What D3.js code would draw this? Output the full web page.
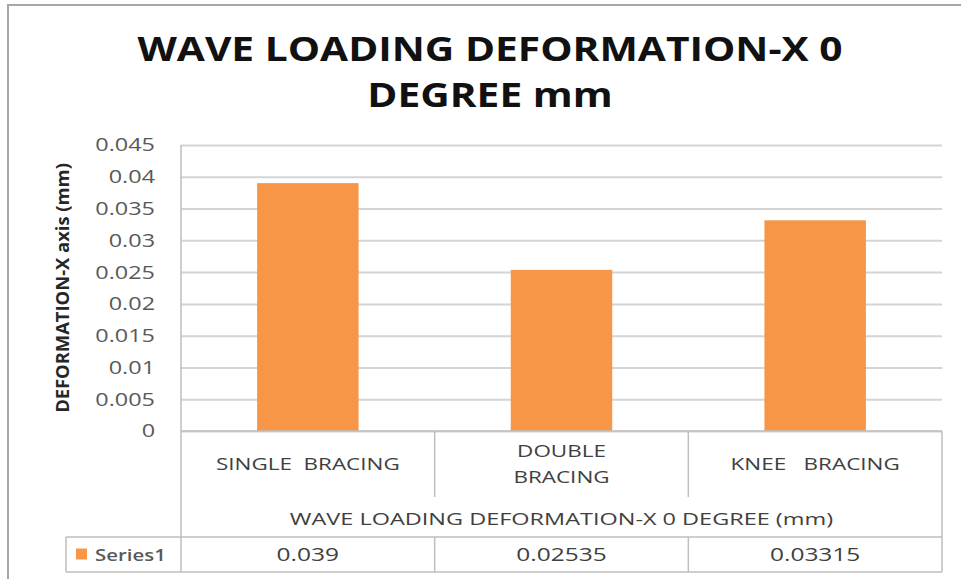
<!DOCTYPE html>
<html>
<head>
<meta charset="utf-8">
<script src="https://cdn.jsdelivr.net/npm/d3@7"></script>
<style>
	body { margin: 0; background: #fff; }
	svg { display: block; font-family: "Open Sans", sans-serif; }
	.grid line { stroke: #d4d4d4; stroke-width: 2; }
	.grid path { display: none; }
	.tbl { stroke: #bfbfbf; stroke-width: 1.5; fill: none; }
</style>
</head>
<body>
<svg id="chart" width="961" height="579"></svg>
<script>
// chart data
var categories = ["SINGLE  BRACING", "DOUBLE\nBRACING", "KNEE   BRACING"];
var values = [0.039, 0.02535, 0.03315];
var valueLabels = ["0.039", "0.02535", "0.03315"];
var yTicks = [0, 0.005, 0.01, 0.015, 0.02, 0.025, 0.03, 0.035, 0.04, 0.045];
var seriesName = "Series1";
var titleLines = ["WAVE LOADING DEFORMATION-X 0", "DEGREE mm"];
var xTitle = "WAVE LOADING DEFORMATION-X 0 DEGREE (mm)";
var yTitle = "DEFORMATION-X axis (mm)";

var orange = "#f79646";

var svg = d3.select("#chart");
var margin = { top: 145, right: 19, bottom: 148, left: 181 },
	width = +svg.attr("width") - margin.left - margin.right,
	height = +svg.attr("height") - margin.top - margin.bottom;

// stretch text horizontally (source picture is widened)
function stretch(sel, k) {
	sel.each(function () {
		var n = this.getComputedTextLength();
		d3.select(this).attr("textLength", n * k).attr("lengthAdjust", "spacingAndGlyphs");
	});
}

// outer chart frame
svg.append("path")
	.attr("d", "M8,579V5H961")
	.attr("fill", "none")
	.attr("stroke", "#a6a6a6")
	.attr("stroke-width", 2);

// title
svg.append("g").selectAll("text")
	.data(titleLines)
	.enter().append("text")
	.attr("x", 490)
	.attr("y", function (d, i) { return 61 + i * 46; })
	.attr("text-anchor", "middle")
	.attr("font-size", 33.5)
	.attr("font-weight", "bold")
	.attr("fill", "#111")
	.text(function (d) { return d; })
	.call(stretch, 1.215);

var g = svg.append("g").attr("transform", "translate(" + margin.left + "," + margin.top + ")");

var x = d3.scaleBand()
	.domain(categories)
	.range([0, width])
	.paddingInner(0.6)
	.paddingOuter(0.3);

var xCell = d3.scaleBand()
	.domain(categories)
	.range([0, width]);

var y = d3.scaleLinear()
	.domain([0, 0.045])
	.range([height, 0]);

// gridlines
g.append("g")
	.attr("class", "grid")
	.call(d3.axisLeft(y).tickValues(yTicks).tickSize(-width).tickFormat(""));

// tick labels
g.append("g").selectAll("text")
	.data(yTicks)
	.enter().append("text")
	.attr("x", -26)
	.attr("y", function (d) { return y(d); })
	.attr("dy", "0.36em")
	.attr("text-anchor", "end")
	.attr("font-size", 18)
	.attr("fill", "#595959")
	.text(function (d) { return d3.format("")(d); })
	.call(stretch, 1.3);

// y axis title
svg.append("text")
	.attr("transform", "translate(69," + (margin.top + height / 2) + ") rotate(-90)")
	.attr("text-anchor", "middle")
	.attr("font-size", 17.5)
	.attr("font-weight", "bold")
	.attr("fill", "#262626")
	.text(yTitle)
	.call(stretch, 1.05);

// bars
g.selectAll(".bar")
	.data(values)
	.enter().append("rect")
	.attr("class", "bar")
	.attr("x", function (d, i) { return x(categories[i]); })
	.attr("width", x.bandwidth())
	.attr("y", function (d) { return y(d); })
	.attr("height", function (d) { return height - y(d); })
	.attr("fill", orange);

// data table
var rowTop = height, rowMid = height + 66, serTop = height + 106, serBot = height + 141;
var tbl = g.append("g");
tbl.append("path").attr("class", "tbl")
	.attr("d", "M0,0V" + serBot + "M" + width + "," + rowTop + "V" + serBot +
		"M0," + rowTop + "H" + width +
		"M-115," + serTop + "H" + width + "M-115," + serBot + "H" + width +
		"M-115," + serTop + "V" + serBot);
tbl.selectAll(".div")
	.data(categories.slice(1))
	.enter().append("path")
	.attr("class", "tbl")
	.attr("d", function (d) {
		var xx = xCell(d);
		return "M" + xx + "," + rowTop + "V" + rowMid + "M" + xx + "," + serTop + "V" + serBot;
	});

// category labels
var cat = tbl.selectAll(".cat")
	.data(categories)
	.enter().append("text")
	.attr("class", "cat")
	.attr("text-anchor", "middle")
	.attr("font-size", 17)
	.attr("fill", "#404040")
	.attr("transform", function (d) {
		var n = d.split("\n").length;
		return "translate(" + (xCell(d) + xCell.bandwidth() / 2) + "," + (rowTop + 39 - (n - 1) * 13) + ")";
	});
cat.selectAll("tspan")
	.data(function (d) { return d.split("\n"); })
	.enter().append("tspan")
	.attr("x", 0)
	.attr("dy", function (d, i) { return i ? 26 : 0; })
	.style("white-space", "pre")
	.text(function (d) { return d; });
cat.selectAll("tspan").call(stretch, 1.32);

// x axis title
tbl.append("text")
	.attr("x", width / 2)
	.attr("y", height + 94)
	.attr("text-anchor", "middle")
	.attr("font-size", 17)
	.attr("fill", "#404040")
	.text(xTitle)
	.call(stretch, 1.38);

// values row
tbl.selectAll(".val")
	.data(valueLabels)
	.enter().append("text")
	.attr("class", "val")
	.attr("x", function (d, i) { return xCell(categories[i]) + xCell.bandwidth() / 2; })
	.attr("y", (serTop + serBot) / 2)
	.attr("dy", "0.36em")
	.attr("text-anchor", "middle")
	.attr("font-size", 18)
	.attr("fill", "#404040")
	.text(function (d) { return d; })
	.call(stretch, 1.36);

// legend key
tbl.append("rect")
	.attr("x", -105)
	.attr("y", (serTop + serBot) / 2 - 6)
	.attr("width", 11)
	.attr("height", 11)
	.attr("fill", orange);
tbl.append("text")
	.attr("x", -86)
	.attr("y", (serTop + serBot) / 2)
	.attr("dy", "0.36em")
	.attr("font-size", 17)
	.attr("font-weight", "600")
	.attr("fill", "#595959")
	.text(seriesName)
	.call(stretch, 1.2);
</script>
</body>
</html>
